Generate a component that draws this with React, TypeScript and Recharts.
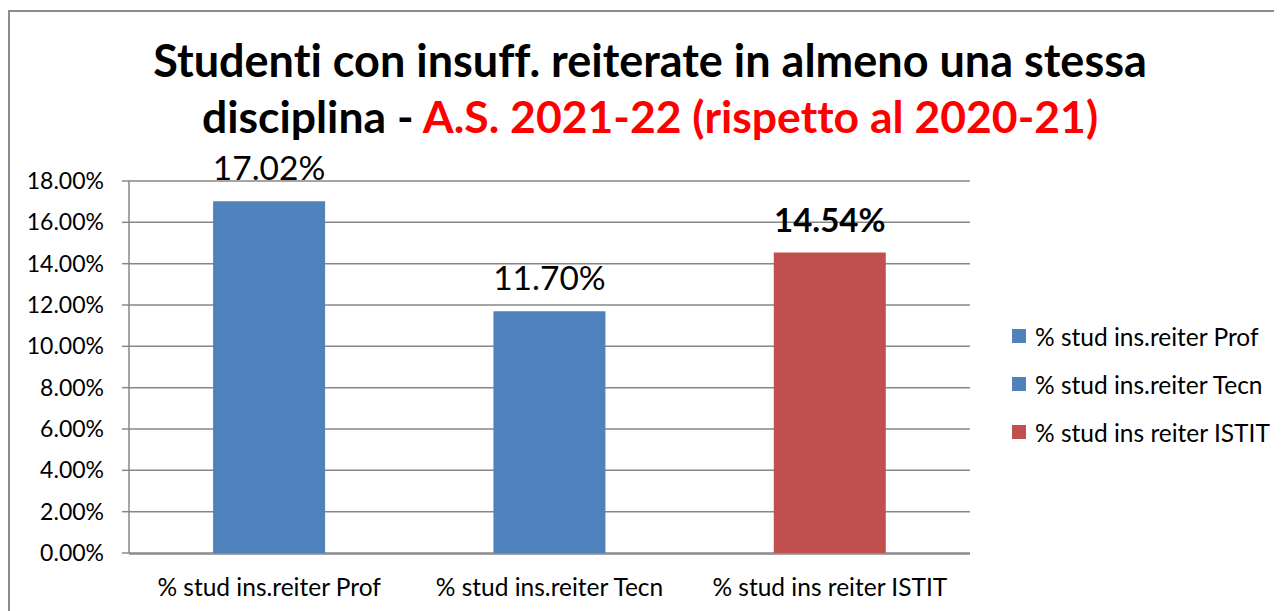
import React from 'react';
import { BarChart, Bar, XAxis, YAxis, CartesianGrid, Cell, LabelList } from 'recharts';

const categories = ['% stud ins.reiter Prof', '% stud ins.reiter Tecn', '% stud ins reiter ISTIT'];
const values = [17.02, 11.7, 14.54];
const barColors = ['#4F81BD', '#4F81BD', '#C0504D'];
const boldLabel = [false, false, true];
const yTicks = [0, 2, 4, 6, 8, 10, 12, 14, 16, 18];
const boundaryTicks = [0, 1, 2, 3];
const titleLine1 = 'Studenti con insuff. reiterate in almeno una stessa';
const titleLine2Black = 'disciplina - ';
const titleLine2Red = 'A.S. 2021-22 (rispetto al 2020-21)';

const data = categories.map((c, i) => ({ name: c, value: values[i] }));

const FONT = 'Lato, "Open Sans", sans-serif';
const GRID = '#878787';

const renderLabel = (props: any) => {
  const { x, y, width, value } = props;
  const i = values.indexOf(value);
  const bold = boldLabel[i];
  return (
    <text
      x={x + width / 2}
      y={y - 21}
      textAnchor="middle"
      fontFamily={FONT}
      fontSize={bold ? 33 : 33.5}
      fontWeight={bold ? 700 : 400}
      fill="#000"
    >
      {value.toFixed(2) + '%'}
    </text>
  );
};

const CatTick = (props: any) => {
  const { x, y, payload } = props;
  return (
    <text x={x} y={y} dy={34} textAnchor="middle" fontFamily={FONT} fontSize={24.5} fill="#000">
      {payload.value}
    </text>
  );
};

export default function App() {
  return (
    <div style={{ position: 'relative', width: 1274, height: 603, overflow: 'hidden', background: '#fff' }}>
      <div
        style={{
          position: 'absolute',
          left: 0,
          top: 2,
          width: 1400,
          height: 800,
          borderLeft: '2px solid #8c8c8c',
          borderTop: '2px solid #8c8c8c',
          boxSizing: 'border-box',
        }}
      />
      <svg
        width={1274}
        height={160}
        style={{ position: 'absolute', left: 0, top: 0, fontVariantLigatures: 'none' }}
      >
        <text x={642} y={69} textAnchor="middle" fontFamily={FONT} fontWeight={700} fontSize={45} fill="#000">
          {titleLine1}
        </text>
        <text x={642} y={125} textAnchor="middle" fontFamily={FONT} fontWeight={700} fontSize={44.5}>
          <tspan fill="#000">{titleLine2Black}</tspan>
          <tspan fill="#FF0000">{titleLine2Red}</tspan>
        </text>
      </svg>
      <div style={{ position: 'absolute', left: 0, top: 0 }}>
        <BarChart
          width={1274}
          height={603}
          data={data}
          margin={{ top: 173, right: 312, left: 0, bottom: 0 }}
          barCategoryGap="30%"
        >
          <CartesianGrid vertical={false} stroke={GRID} strokeWidth={1.5} />
          <XAxis
            xAxisId="bounds"
            type="number"
            domain={[0, 3]}
            ticks={boundaryTicks}
            tick={false}
            tickLine={{ stroke: GRID, strokeWidth: 1.5 }}
            tickSize={7}
            axisLine={false}
            height={1}
          />
          <XAxis
            dataKey="name"
            xAxisId="cat"
            height={57}
            tickLine={false}
            axisLine={{ stroke: GRID, strokeWidth: 1.5 }}
            tick={<CatTick />}
            interval={0}
          />
          <YAxis
            width={121}
            domain={[0, 18]}
            ticks={yTicks}
            tickFormatter={(v: number) => v.toFixed(2) + '%'}
            tick={{ fill: '#000', fontSize: 23, fontFamily: FONT }}
            tickSize={7}
            tickMargin={18}
            tickLine={{ stroke: GRID, strokeWidth: 1.5 }}
            axisLine={{ stroke: GRID, strokeWidth: 1.5 }}
          />
          <Bar dataKey="value" xAxisId="cat" isAnimationActive={false}>
            {data.map((d, i) => (
              <Cell key={d.name} fill={barColors[i]} />
            ))}
            <LabelList dataKey="value" content={renderLabel} />
          </Bar>
        </BarChart>
      </div>
      <div style={{ position: 'absolute', left: 1004, top: 304, fontFamily: FONT, fontSize: 24.5, color: '#000' }}>
        {categories.map((c, i) => (
          <div key={c} style={{ display: 'flex', alignItems: 'center', height: 48 }}>
            <span style={{ display: 'inline-block', width: 14, height: 14, background: barColors[i], marginRight: 9 }} />
            <span>{c}</span>
          </div>
        ))}
      </div>
    </div>
  );
}
